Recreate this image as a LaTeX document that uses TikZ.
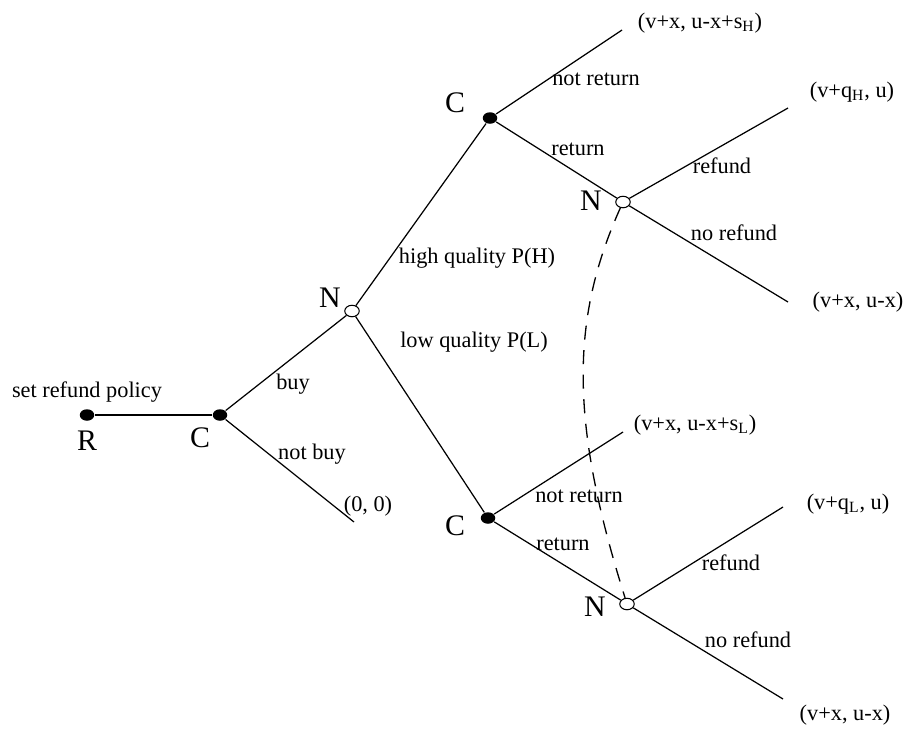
\documentclass[tikz,border=0pt]{standalone}
\usepackage{fontspec}
\setmainfont{Liberation Serif}
\usetikzlibrary{shapes.geometric,positioning}

\begin{document}
\begin{tikzpicture}[x=0.02cm, y=-0.02cm, line width=0.7pt,
    every node/.style={font=\fontsize{12.7}{15}\selectfont},
    player/.style={font=\fontsize{17}{20}\selectfont},
    move/.style={ellipse, fill=black, inner sep=0pt, minimum width=0.29cm, minimum height=0.23cm},
    chance/.style={ellipse, draw, fill=white, inner sep=0pt, line width=0.6pt, minimum width=0.29cm, minimum height=0.23cm}]
    \useasboundingbox (0,0) rectangle (905,728);

    \node[move] (r) at (87,415) {};
    \node (rpol) at (87,392) {set refund policy};
    \node[player] (rlab) at (87,441) {R};

    \node[move] (c) at (220,415) {}; \draw (r) -- (c);
    \node[player] (clab) at (200,438) {C};
    \coordinate (cnb) at (354,522); \draw (c) -- (cnb);
    \node (lbuy) at (293,384) {buy};
    \node (lnbuy) at (312,454) {not buy};
    \node (p0) at (368,506) {(0, 0)};

    \node[chance] (n) at (352,311) {}; \draw (c) -- (n);
    \node[player] (nlab) at (330,298) {N};

    % high quality
    \node[move] (ch) at (490,118) {}; \draw (n) -- (ch);
    \node[player] (chlab) at (455,103) {C};
    \node (lhigh) at (477,258) {high quality P(H)};
    \coordinate (chnr) at (622,30); \draw (ch) -- (chnr);
    \node (lhnr) at (596,79) {not return};
    \node (phnr) at (700,23) {(v+x, u-x+s\textsubscript{H})};

    \node[chance] (nh) at (623,202) {}; \draw (ch) -- (nh);
    \node[player] (nhlab) at (591,201) {N};
    \node (lhret) at (578,149) {return};
    \coordinate (nhr) at (788,108); \draw (nh) -- (nhr);
    \coordinate (nhnr) at (788,302); \draw (nh) -- (nhnr);
    \node (lhref) at (722,166) {refund};
    \node (lhnref) at (734,233) {no refund};
    \node (phr) at (852,92) {(v+q\textsubscript{H}, u)};
    \node (phnref) at (858,302) {(v+x, u-x)};

    % low quality
    \node[move] (cl) at (488,518) {}; \draw (n) -- (cl);
    \node[player] (cllab) at (455,526) {C};
    \node (llow) at (474,342) {low quality P(L)};
    \coordinate (clnr) at (623,432); \draw (cl) -- (clnr);
    \node (llnr) at (579,496) {not return};
    \node (plnr) at (695,425) {(v+x, u-x+s\textsubscript{L})};

    \node[chance] (nl) at (627,604) {}; \draw (cl) -- (nl);
    \node[player] (nllab) at (595,607) {N};
    \node (llret) at (563,544) {return};
    \coordinate (nlr) at (783,507); \draw (nl) -- (nlr);
    \coordinate (nlnr) at (783,699); \draw (nl) -- (nlnr);
    \node (llref) at (731,563) {refund};
    \node (llnref) at (748,640) {no refund};
    \node (plr) at (848,504) {(v+q\textsubscript{L}, u)};
    \node (plnref) at (845,715) {(v+x, u-x)};

    % information set
    \draw[dash pattern=on 8pt off 6pt, line width=0.75pt] (nh) .. controls (570,320) and (570,423) .. (nl);
\end{tikzpicture}
\end{document}
